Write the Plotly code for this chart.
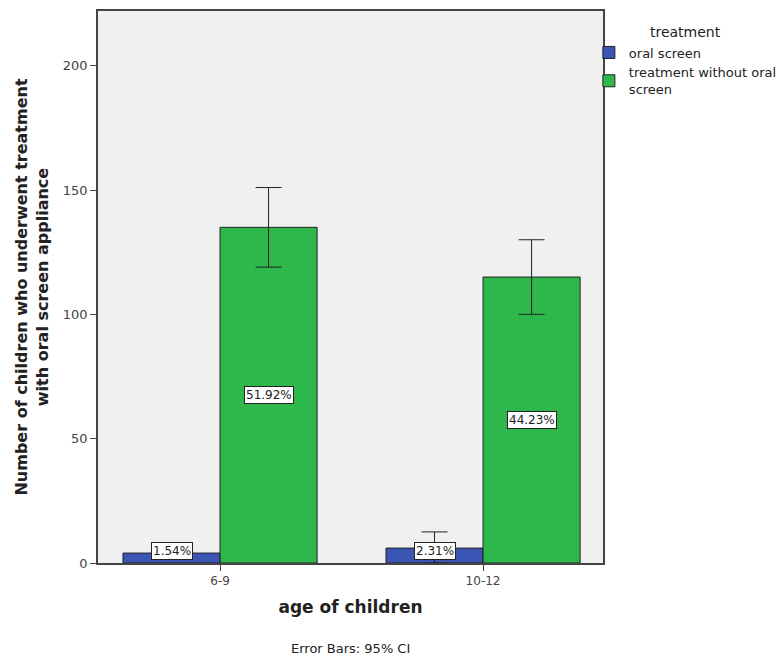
import plotly.graph_objects as go

categories = ["6-9", "10-12"]
oral_screen = [4, 6]
oral_screen_hi = [4, 12.5]
oral_screen_lo = [4, 0]
without_oral = [135, 115]
without_hi = [151, 130]
without_lo = [119, 100]
labels_oral = ["1.54%", "2.31%"]
labels_without = ["51.92%", "44.23%"]

xpos = list(range(len(categories)))
bar_w = 0.369

fig = go.Figure()
fig.add_trace(go.Bar(
    x=xpos, y=oral_screen, name="oral screen",
    marker=dict(color="#3a55b4", line=dict(color="#222222", width=1)),
    error_y=dict(type="data", symmetric=False,
                 array=[h - v for h, v in zip(oral_screen_hi, oral_screen)],
                 arrayminus=[v - l for v, l in zip(oral_screen, oral_screen_lo)],
                 color="#222222", thickness=1, width=13),
    width=bar_w, offset=-bar_w,
))
fig.add_trace(go.Bar(
    x=xpos, y=without_oral, name="treatment without oral<br>screen",
    marker=dict(color="#2eb84b", line=dict(color="#222222", width=1)),
    error_y=dict(type="data", symmetric=False,
                 array=[h - v for h, v in zip(without_hi, without_oral)],
                 arrayminus=[v - l for v, l in zip(without_oral, without_lo)],
                 color="#222222", thickness=1, width=13),
    width=bar_w, offset=0,
))

for i in xpos:
    fig.add_annotation(x=i - bar_w / 2, y=max(oral_screen[i] / 2, 5), text=labels_oral[i],
                       showarrow=False, bgcolor="white", bordercolor="#222222", borderwidth=1,
                       borderpad=1, font=dict(size=12, color="#222222", family="DejaVu Sans"))
    fig.add_annotation(x=i + bar_w / 2, y=without_oral[i] / 2, text=labels_without[i],
                       showarrow=False, bgcolor="white", bordercolor="#222222", borderwidth=1,
                       borderpad=1, font=dict(size=12, color="#222222", family="DejaVu Sans"))

fig.add_annotation(x=0.5, y=-0.154, xref="paper", yref="paper", text="Error Bars: 95% CI",
                   showarrow=False, font=dict(size=13, color="#222222", family="DejaVu Sans"),
                   xanchor="center", yanchor="middle")

fig.update_layout(
    width=777, height=658,
    margin=dict(l=98, r=174, t=11, b=95, autoexpand=False),
    paper_bgcolor="white", plot_bgcolor="#f0f0f0",
    font=dict(family="DejaVu Sans", color="#222222"),
    showlegend=True,
    legend=dict(
        title=dict(text="treatment", font=dict(size=14, color="#222222"), side="top center"),
        x=0.972, y=0.985, xanchor="left", yanchor="top",
        font=dict(size=13, color="#222222"),
        tracegroupgap=0, itemwidth=30,
        bgcolor="rgba(0,0,0,0)",
    ),
    xaxis=dict(
        range=[-0.464, 1.456], tickvals=xpos, ticktext=categories,
        showgrid=False, zeroline=False, showline=True, linecolor="#444444", linewidth=1.5,
        mirror=True, ticks="outside", ticklen=6, tickcolor="#444444",
        tickfont=dict(size=12, color="#444444"),
        title=dict(text="<b>age of children</b>", font=dict(size=17, color="#222222"), standoff=14),
    ),
    yaxis=dict(
        range=[0, 222], tickvals=[0, 50, 100, 150, 200],
        showgrid=False, zeroline=False, showline=True, linecolor="#444444", linewidth=1.5,
        mirror=True, ticks="outside", ticklen=6, tickcolor="#444444",
        tickfont=dict(size=13, color="#444444"),
        title=dict(text="<b>Number of children who underwent treatment<br>with oral screen appliance</b>",
                   font=dict(size=16, color="#222222"), standoff=10),
    ),
)

fig.write_html("out.html", config={"displayModeBar": False},
               post_script="document.body.style.margin='0';document.body.style.padding='0';")
